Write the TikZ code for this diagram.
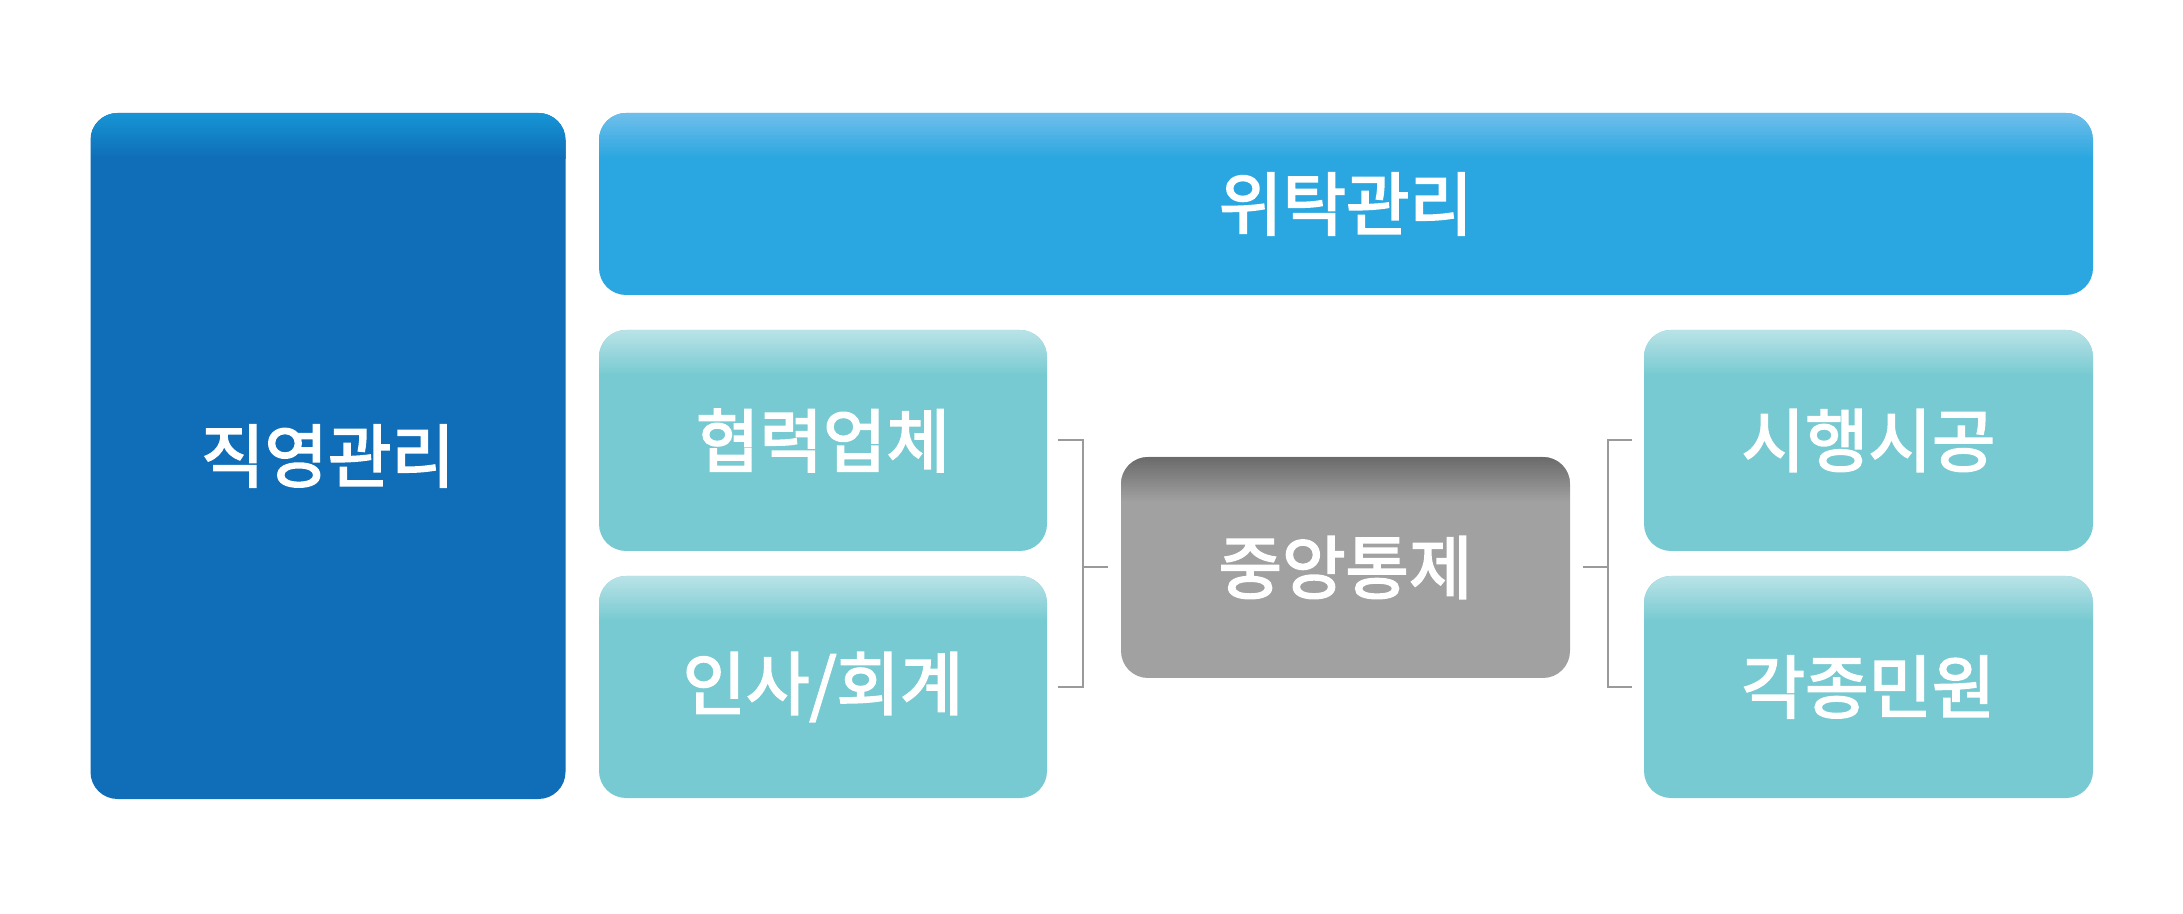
\documentclass[tikz,border=0pt]{standalone}
\usepackage{fontspec}
\newfontfamily\kr{Noto Sans CJK KR}[FakeBold=2.6]
\definecolor{jikbase}{HTML}{0F6EB7}
\definecolor{jiktop}{HTML}{1794D5}
\definecolor{wibase}{HTML}{2AA7E0}
\definecolor{witop}{HTML}{6EBEEB}
\definecolor{tealbase}{HTML}{77CAD1}
\definecolor{tealtop}{HTML}{B9E2E7}
\definecolor{graybase}{HTML}{A1A1A1}
\definecolor{graytop}{HTML}{6B6B6B}
\definecolor{linegray}{HTML}{9A9A9A}
\tikzset{
  boxbase/.style n args={4}{rounded corners=27pt, inner sep=0pt, fill=#3,
    minimum width=#1, minimum height=#2,
    text=white, font=\kr\fontsize{69}{74}\selectfont,
    path picture={
      \foreach \i in {0,...,22}{
        \pgfmathtruncatemacro\p{100*\i/22}
        \fill[sharp corners, #3!\p!#4]
          ([yshift=-2*\i pt]path picture bounding box.north west) rectangle
          ([yshift=-2*\i pt - 2.3pt]path picture bounding box.north east);
      }}},
  jikbox/.style 2 args={boxbase={#1}{#2}{jikbase}{jiktop}},
  wibox/.style 2 args={boxbase={#1}{#2}{wibase}{witop}},
  tealbox/.style 2 args={boxbase={#1}{#2}{tealbase}{tealtop}},
  graybox/.style 2 args={boxbase={#1}{#2}{graybase}{graytop}},
  bracket/.style={draw=linegray, line width=2pt}
}
\begin{document}
\begin{tikzpicture}[x=1pt,y=1pt]
\fill[white] (0,0) rectangle (2183,913);
\useasboundingbox (0,0) rectangle (2183,913);
\node[jikbox={475pt}{686pt}] (jik) at (328,457) {직영관리};
\node[wibox={1494pt}{182pt}] (wi) at (1346,709) {위탁관리};
\node[tealbox={448pt}{221pt}] (hyeop) at (823,472.5) {협력업체};
\node[tealbox={448pt}{222pt}] (insa) at (823,226) {인사/회계};
\node[graybox={449pt}{221pt}] (jung) at (1345.5,345.5) {중앙통제};
\node[tealbox={449pt}{221pt}] (sihaeng) at (1868.5,472.5) {시행시공};
\node[tealbox={449pt}{222pt}] (gak) at (1868.5,226) {각종민원};
% left bracket
\draw[bracket] ([xshift=11pt]hyeop.east) -- ++(25,0)
   |- ([xshift=11pt]insa.east);
\draw[bracket] ([xshift=-13pt]jung.west) -- ++(-25,0);
% right bracket
\draw[bracket] ([xshift=-12pt]sihaeng.west) -- ++(-24,0)
   |- ([xshift=-12pt]gak.west);
\draw[bracket] ([xshift=13pt]jung.east) -- ++(25,0);
\end{tikzpicture}
\end{document}
